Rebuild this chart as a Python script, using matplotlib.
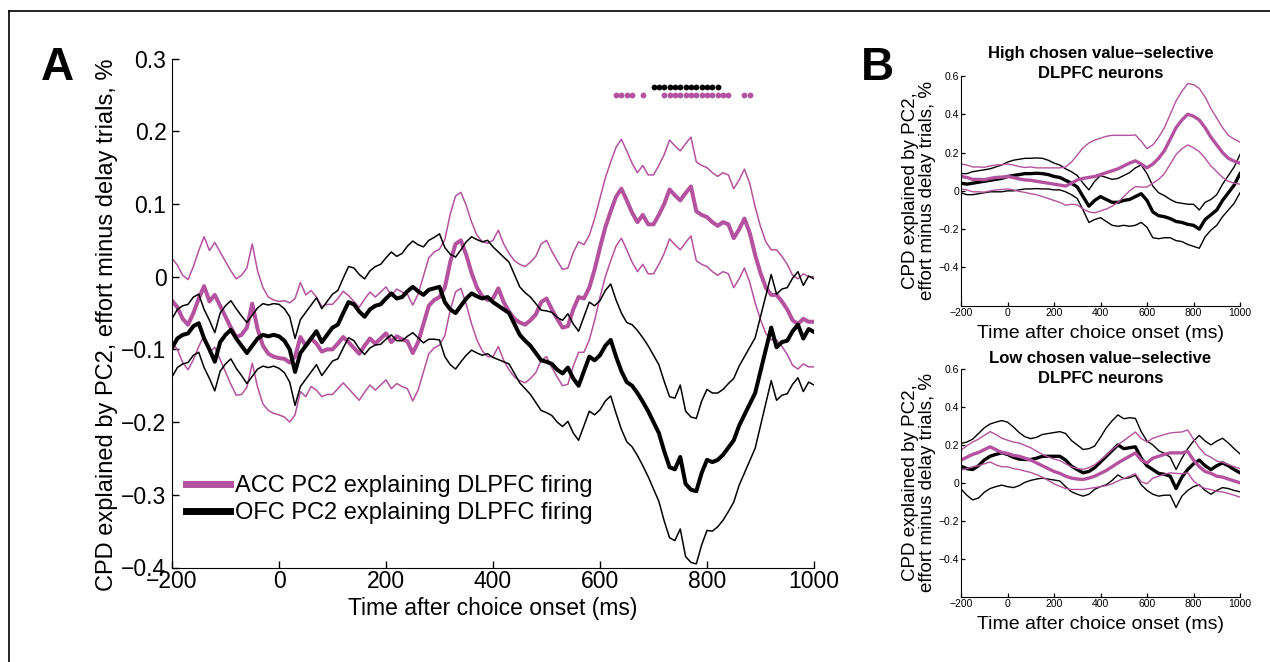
import numpy as np
import matplotlib
matplotlib.use("Agg")
import matplotlib.pyplot as plt
from matplotlib.lines import Line2D

plt.rcParams['font.family'] = ['Liberation Sans', 'DejaVu Sans']

# ---------------- data: panel A (10 ms bins) ----------------
t_a = np.arange(-200, 1001, 10)
acc_mean = np.array([
    -0.033, -0.042, -0.058, -0.066, -0.050, -0.030, -0.013, -0.034, -0.025, -0.040,
    -0.055, -0.070, -0.083, -0.080, -0.070, -0.037, -0.072, -0.095, -0.106, -0.110,
    -0.112, -0.113, -0.118, -0.110, -0.083, -0.095, -0.085, -0.092, -0.103, -0.100,
    -0.100, -0.092, -0.083, -0.090, -0.098, -0.106, -0.095, -0.085, -0.092, -0.085,
    -0.078, -0.090, -0.082, -0.086, -0.089, -0.105, -0.090, -0.065, -0.040, -0.032,
    -0.028, -0.015, 0.020, 0.045, 0.050, 0.030, 0.005, -0.015, -0.027, -0.032,
    -0.030, -0.016, -0.035, -0.048, -0.058, -0.063, -0.066, -0.060, -0.052, -0.035,
    -0.030, -0.045, -0.058, -0.070, -0.068, -0.045, -0.028, -0.030, -0.015, 0.010,
    0.040, 0.068, 0.090, 0.110, 0.121, 0.105, 0.088, 0.075, 0.085, 0.072,
    0.072, 0.085, 0.100, 0.120, 0.112, 0.105, 0.115, 0.124, 0.090, 0.085,
    0.082, 0.075, 0.070, 0.075, 0.072, 0.053, 0.065, 0.080, 0.060, 0.030,
    0.005, -0.015, -0.025, -0.025, -0.034, -0.045, -0.060, -0.065, -0.058, -0.062,
    -0.062])
acc_se = np.array([
    .058, .058, .060, .062, .064, .066, .068, .070, .072, .074,
    .076, .078, .080, .082, .082, .082, .080, .080, .078, .078,
    .078, .080, .082, .080, .075, .070, .066, .064, .062, .062,
    .062, .062, .063, .064, .064, .064, .064, .064, .064, .064,
    .064, .064, .065, .065, .065, .066, .066, .066, .066, .066,
    .066, .066, .066, .066, .066, .068, .070, .072, .075, .078,
    .080, .080, .080, .080, .080, .080, .080, .080, .080, .080,
    .080, .080, .080, .080, .080, .078, .076, .074, .072, .070,
    .068, .068, .068, .068, .068, .068, .068, .068, .068, .068,
    .068, .068, .068, .068, .068, .068, .068, .068, .068, .068,
    .068, .068, .068, .068, .068, .068, .068, .068, .068, .066,
    .064, .063, .062, .062, .062, .062, .062, .062, .062, .062,
    .062])
ofc_mean = np.array([
    -0.098, -0.085, -0.080, -0.078, -0.068, -0.064, -0.085, -0.100, -0.117, -0.090,
    -0.080, -0.073, -0.085, -0.095, -0.105, -0.095, -0.085, -0.080, -0.082, -0.080,
    -0.082, -0.088, -0.100, -0.131, -0.105, -0.095, -0.085, -0.075, -0.090, -0.080,
    -0.070, -0.066, -0.050, -0.035, -0.038, -0.048, -0.055, -0.045, -0.040, -0.038,
    -0.030, -0.023, -0.030, -0.028, -0.020, -0.014, -0.020, -0.025, -0.018, -0.016,
    -0.014, -0.035, -0.045, -0.050, -0.040, -0.030, -0.023, -0.027, -0.030, -0.028,
    -0.035, -0.040, -0.045, -0.050, -0.065, -0.080, -0.088, -0.095, -0.105, -0.115,
    -0.117, -0.120, -0.128, -0.133, -0.125, -0.140, -0.150, -0.130, -0.110, -0.115,
    -0.108, -0.095, -0.087, -0.110, -0.130, -0.145, -0.150, -0.160, -0.172, -0.185,
    -0.200, -0.215, -0.240, -0.262, -0.265, -0.248, -0.285, -0.293, -0.295, -0.270,
    -0.252, -0.255, -0.252, -0.245, -0.235, -0.225, -0.205, -0.190, -0.175, -0.160,
    -0.130, -0.100, -0.070, -0.097, -0.090, -0.088, -0.075, -0.066, -0.085, -0.072,
    -0.076])
ofc_se = np.array([
    .040, .040, .040, .040, .040, .040, .040, .040, .040, .040,
    .040, .040, .041, .041, .042, .042, .042, .043, .043, .043,
    .044, .044, .045, .046, .046, .046, .046, .046, .046, .046,
    .046, .047, .048, .049, .050, .051, .052, .053, .054, .055,
    .056, .057, .058, .060, .062, .063, .064, .066, .068, .070,
    .073, .075, .076, .077, .077, .078, .078, .078, .078, .078,
    .076, .074, .072, .070, .068, .066, .066, .067, .068, .069,
    .070, .071, .072, .073, .074, .075, .075, .075, .075, .075,
    .075, .076, .077, .078, .080, .082, .084, .086, .088, .090,
    .092, .094, .096, .097, .098, .099, .100, .100, .100, .099,
    .097, .095, .092, .090, .088, .085, .082, .080, .078, .076,
    .075, .074, .073, .073, .073, .073, .073, .073, .073, .073,
    .073])
sig_acc = [630, 640, 650, 660, 680, 720, 730, 740, 750, 760, 770, 780, 790,
           800, 810, 820, 830, 840, 870, 880]
sig_ofc = [700, 710, 720, 730, 740, 750, 760, 770, 780, 790, 800, 810, 820]

# ---------------- data: panel B (25 ms bins) ----------------
t_b = np.arange(-200, 1001, 25)
hi_acc_mean = [0.075, 0.07, 0.06, 0.06, 0.058, 0.065, 0.07, 0.072, 0.075,
               0.07, 0.062, 0.057, 0.055, 0.05, 0.045, 0.04, 0.035, 0.03, 0.025,
               0.04, 0.057, 0.065, 0.07, 0.075, 0.085, 0.095, 0.105, 0.115, 0.13,
               0.145, 0.157, 0.14, 0.12,
               0.14, 0.17, 0.21, 0.27, 0.33, 0.37, 0.40, 0.39, 0.37, 0.33,
               0.28, 0.24, 0.20, 0.17, 0.155, 0.145]
hi_acc_se = [0.065, 0.065, 0.065, 0.065, 0.065, 0.065, 0.065, 0.065, 0.065,
             0.065, 0.065, 0.065, 0.07, 0.07, 0.075, 0.08, 0.085, 0.09, 0.1,
             0.11, 0.13, 0.16, 0.18, 0.19, 0.19, 0.19, 0.185, 0.175, 0.16,
             0.145, 0.135, 0.12, 0.1,
             0.1, 0.11, 0.12, 0.13, 0.14, 0.15, 0.16, 0.165, 0.165, 0.16,
             0.15, 0.14, 0.13, 0.12, 0.115, 0.11]
hi_ofc_mean = [0.04, 0.035, 0.04, 0.045, 0.05, 0.055, 0.06, 0.065, 0.075, 0.08,
               0.085, 0.09, 0.09, 0.092, 0.09, 0.085, 0.075, 0.07, 0.055, 0.04,
               0.02, -0.03, -0.08, -0.05, -0.03, -0.045, -0.06, -0.06, -0.05, -0.045,
               -0.03, -0.015, -0.05, -0.11, -0.13, -0.135, -0.145, -0.16, -0.165, -0.175,
               -0.18, -0.2, -0.15, -0.125, -0.1, -0.05, -0.01, 0.03, 0.09]
hi_ofc_se = [0.05, 0.055, 0.06, 0.06, 0.06, 0.06, 0.065, 0.07, 0.075,
             0.08, 0.08, 0.08, 0.08, 0.08, 0.08, 0.075, 0.07, 0.065, 0.06,
             0.06, 0.06, 0.07, 0.085, 0.1, 0.11, 0.115, 0.12, 0.125, 0.13, 0.14, 0.15, 0.15, 0.14,
             0.135, 0.12, 0.11, 0.1, 0.1, 0.1, 0.105, 0.11, 0.1, 0.09, 0.08, 0.08,
             0.085, 0.09, 0.095, 0.1]
lo_acc_mean = [0.12, 0.135, 0.15, 0.16, 0.175, 0.19, 0.175, 0.16, 0.155, 0.145,
               0.14, 0.13, 0.12, 0.105, 0.09, 0.075, 0.06, 0.05, 0.035, 0.025,
               0.02, 0.018, 0.025, 0.035, 0.05, 0.065, 0.085, 0.105, 0.123, 0.14,
               0.158, 0.12, 0.105, 0.13, 0.14, 0.15, 0.158, 0.158, 0.158, 0.166,
               0.12, 0.085, 0.06, 0.05, 0.035, 0.03, 0.02, 0.01, 0.0]
lo_acc_se = [0.053, 0.06, 0.065, 0.07, 0.075, 0.08, 0.08, 0.075, 0.07,
             0.07, 0.07, 0.068, 0.065, 0.062, 0.06, 0.062, 0.065, 0.068, 0.065,
             0.06, 0.055, 0.053, 0.055, 0.06, 0.07, 0.08, 0.09, 0.095, 0.1, 0.105, 0.11, 0.114, 0.11,
             0.105, 0.105, 0.105, 0.105, 0.108, 0.11, 0.113, 0.11, 0.1, 0.09, 0.085, 0.08,
             0.078, 0.076, 0.075, 0.075]
lo_ofc_mean = [0.088, 0.075, 0.07, 0.09, 0.12, 0.14, 0.15, 0.158, 0.15, 0.135,
               0.125, 0.123, 0.123, 0.13, 0.14, 0.14, 0.14, 0.14, 0.12, 0.088,
               0.07, 0.053, 0.06, 0.08, 0.11, 0.14, 0.17, 0.2, 0.18, 0.185,
               0.19, 0.13, 0.09, 0.07, 0.05, 0.045, 0.035, -0.03, 0.03, 0.07,
               0.1, 0.12, 0.09, 0.07, 0.09, 0.105, 0.09, 0.07, 0.053]
lo_ofc_se = [0.12, 0.14, 0.16, 0.17, 0.17, 0.17, 0.17, 0.17, 0.17,
             0.16, 0.14, 0.12, 0.11, 0.11, 0.115, 0.12, 0.125, 0.13, 0.14,
             0.135, 0.13, 0.123, 0.12, 0.114, 0.13, 0.15, 0.157, 0.158, 0.158, 0.158, 0.15, 0.14, 0.13,
             0.13, 0.12, 0.11, 0.1, 0.1, 0.1, 0.11, 0.12, 0.13, 0.13, 0.13, 0.13,
             0.13, 0.12, 0.11, 0.1]

MAG = "#b4529f"
W, H = 1270, 662
def fx(x): return x / W
def fy(y): return 1 - y / H
def box(l, t, r, b): return [fx(l), fy(b), (r - l) / W, (b - t) / H]

fig = plt.figure(figsize=(12.7, 6.62), dpi=100)

# frame lines (top / left)
fig.add_artist(Line2D([fx(9), fx(9)], [fy(11), 0], transform=fig.transFigure, color="k", lw=1.2))
fig.add_artist(Line2D([fx(9), 1], [fy(11), fy(11)], transform=fig.transFigure, color="k", lw=1.2))

# ---------------- panel A ----------------
ax = fig.add_axes(box(172, 58.6, 814, 567.5))
for m, s, c in [(acc_mean, acc_se, MAG), (ofc_mean, ofc_se, "k")]:
    ax.plot(t_a, m + s, color=c, lw=1.1)
    ax.plot(t_a, m - s, color=c, lw=1.1)
    ax.plot(t_a, m, color=c, lw=2.9)
ax.plot(sig_ofc, [0.2605] * len(sig_ofc), "o", color="k", ms=4.2, mew=0)
ax.plot(sig_acc, [0.2505] * len(sig_acc), "o", color=MAG, ms=4.2, mew=0)
ax.set_xlim(-200, 1000); ax.set_ylim(-0.4, 0.3)
ax.set_xticks(range(-200, 1001, 200))
ax.set_yticks(np.arange(-0.4, 0.31, 0.1))
ax.set_yticklabels(["\u22120.4", "\u22120.3", "\u22120.2", "\u22120.1", "0", "0.1", "0.2", "0.3"])
for s in ("top", "right"): ax.spines[s].set_visible(False)
ax.tick_params(direction="in", length=5, width=1, labelsize=16.5)
ax.tick_params(axis="x", pad=2)
ax.tick_params(axis="y", pad=4)
ax.set_xlabel("Time after choice onset (ms)", fontsize=16.5)
ax.xaxis.set_label_coords(0.5, -0.058)
ax.xaxis.label.set_va("top")
ax.set_ylabel("CPD explained by PC2, effort minus delay trials, %", fontsize=17)
ax.yaxis.set_label_coords(-0.084, 0.477)
hnd = [Line2D([], [], color=MAG, lw=5), Line2D([], [], color="k", lw=5)]
ax.legend(hnd, ["ACC PC2 explaining DLPFC firing", "OFC PC2 explaining DLPFC firing"],
          loc="lower left", bbox_to_anchor=(0.022, 0.085), frameon=False, fontsize=17,
          handlelength=1.85, handletextpad=0.2, labelspacing=0.22, borderpad=0, borderaxespad=0)
fig.text(fx(41), fy(80), "A", fontsize=33, fontweight="bold")

# ---------------- panel B ----------------
panels = [
    ((961, 76, 1240, 305.7), hi_acc_mean, hi_acc_se, hi_ofc_mean, hi_ofc_se,
     "High chosen value\u2013selective", 58, 78),
    ((961, 369, 1240, 596.7), lo_acc_mean, lo_acc_se, lo_ofc_mean, lo_ofc_se,
     "Low chosen value\u2013selective", 363, 383),
]
for (l, t, r, b), am, ase, om, ose, ttl, y1, y2 in panels:
    bx = fig.add_axes(box(l, t, r, b))
    for m, s, c in [(om, ose, "k"), (am, ase, MAG)]:
        m = np.array(m); s = np.array(s)
        bx.plot(t_b, m + s, color=c, lw=1.0)
        bx.plot(t_b, m - s, color=c, lw=1.0)
        bx.plot(t_b, m, color=c, lw=2.4)
    bx.set_xlim(-200, 1000); bx.set_ylim(-0.6, 0.6)
    bx.set_xticks(range(-200, 1001, 200))
    bx.set_yticks([-0.4, -0.2, 0, 0.2, 0.4, 0.6])
    bx.set_yticklabels(["\u22120.4", "\u22120.2", "0", "0.2", "0.4", "0.6"])
    for s in ("top", "right"): bx.spines[s].set_visible(False)
    bx.tick_params(direction="in", length=3, width=0.9, labelsize=7.5, pad=1.5)
    bx.set_xlabel("Time after choice onset (ms)", fontsize=14)
    bx.xaxis.set_label_coords(0.5, -0.085)
    bx.xaxis.label.set_va("top")
    bx.set_ylabel("CPD explained by PC2,\neffort minus delay trials, %", fontsize=13.5, linespacing=1.0)
    bx.yaxis.set_label_coords(-0.09, 0.5)
    cx = (l + r) / 2
    fig.text(fx(cx), fy(y1), ttl, fontsize=12, fontweight="bold", ha="center", va="baseline")
    fig.text(fx(cx), fy(y2), "DLPFC neurons", fontsize=12, fontweight="bold", ha="center", va="baseline")
fig.text(fx(861), fy(80), "B", fontsize=33, fontweight="bold")

fig.savefig("out.png", dpi=100)
